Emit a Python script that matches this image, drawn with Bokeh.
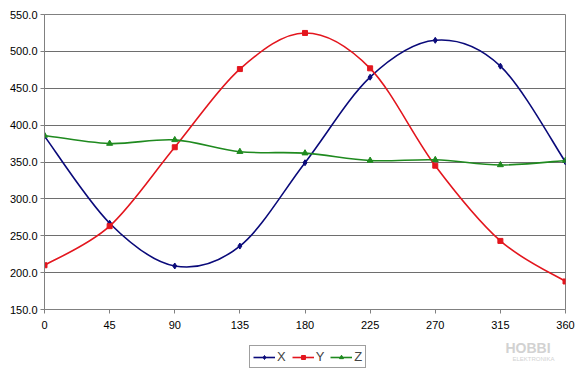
from bokeh.plotting import figure
from bokeh.layouts import column
from bokeh.models import (FixedTicker, PrintfTickFormatter, Range1d, Legend, LegendItem, Label)
from bokeh.embed import file_html
from bokeh.resources import INLINE

# ---- data ----
angles = [0, 45, 90, 135, 180, 225, 270, 315, 360]
x_vals = [385, 267, 209, 236, 349, 465, 515, 480, 350]
y_vals = [210, 263, 370, 476, 525, 477, 345, 243, 188]
z_vals = [386, 375, 380, 364, 362, 352, 353, 346, 352]
series_names = ["X", "Y", "Z"]
y_ticks = [150, 200, 250, 300, 350, 400, 450, 500, 550]

colors = ["#0a0a7a", "#e3161e", "#1f8a1f"]
markers = ["diamond", "square", "triangle"]
marker_sizes = [6, 5, 6]

FONT = "Liberation Sans"

p = figure(width=580, height=334, output_backend="svg", toolbar_location=None,
           x_range=Range1d(0, 360), y_range=Range1d(150, 550),
           min_border_left=44, min_border_right=15, min_border_top=14, min_border_bottom=25)
p.outline_line_color = "#808080"
p.outline_line_width = 1
p.background_fill_color = "white"
p.border_fill_color = "white"

p.xgrid.visible = False
p.ygrid.ticker = FixedTicker(ticks=y_ticks)
p.ygrid.grid_line_color = "#6e6e6e"
p.ygrid.grid_line_width = 1

p.yaxis.ticker = FixedTicker(ticks=y_ticks)
p.yaxis.formatter = PrintfTickFormatter(format="%.1f")
p.xaxis.ticker = FixedTicker(ticks=angles)
for ax in (p.xaxis, p.yaxis):
    ax.axis_line_color = "#808080"
    ax.major_tick_line_color = "#808080"
    ax.major_tick_in = 0
    ax.major_tick_out = 4
    ax.minor_tick_line_color = None
    ax.major_label_text_font = FONT
    ax.major_label_text_font_size = "11px"
    ax.major_label_text_color = "black"
p.yaxis.major_label_standoff = 3
p.xaxis.major_label_standoff = 7


def smooth_segments(xs, ys):
    n = len(xs)
    x0, y0, x1, y1, cx0, cy0, cx1, cy1 = ([] for _ in range(8))
    for i in range(n - 1):
        im = max(i - 1, 0)
        ip2 = min(i + 2, n - 1)
        x0.append(xs[i]); y0.append(ys[i])
        x1.append(xs[i + 1]); y1.append(ys[i + 1])
        cx0.append(xs[i] + (xs[i + 1] - xs[im]) / 6.0)
        cy0.append(ys[i] + (ys[i + 1] - ys[im]) / 6.0)
        cx1.append(xs[i + 1] - (xs[ip2] - xs[i]) / 6.0)
        cy1.append(ys[i + 1] - (ys[ip2] - ys[i]) / 6.0)
    return dict(x0=x0, y0=y0, x1=x1, y1=y1, cx0=cx0, cy0=cy0, cx1=cx1, cy1=cy1)


# strip below the chart that holds the legend and the watermark
p2 = figure(width=580, height=35, output_backend="svg", toolbar_location=None,
            x_range=Range1d(1000, 1001), y_range=Range1d(1000, 1001),
            min_border=0, x_axis_location=None, y_axis_location=None)
p2.outline_line_color = None
p2.grid.visible = False
p2.background_fill_color = "white"
p2.border_fill_color = "white"

items = []
for name, vals, col, mk, ms in zip(series_names, [x_vals, y_vals, z_vals], colors, markers, marker_sizes):
    seg = smooth_segments(angles, vals)
    for fig in (p, p2):
        r1 = fig.bezier(x0=seg["x0"], y0=seg["y0"], x1=seg["x1"], y1=seg["y1"],
                        cx0=seg["cx0"], cy0=seg["cy0"], cx1=seg["cx1"], cy1=seg["cy1"],
                        line_color=col, line_width=1.6)
        r2 = fig.scatter(angles, vals, marker=mk, size=ms, fill_color=col, line_color=col)
    items.append(LegendItem(label=name, renderers=[r1, r2]))

legend = Legend(items=items, orientation="horizontal", location=(205, 1),
                border_line_color="#404040", border_line_width=1,
                label_text_font=FONT, label_text_font_size="13px",
                glyph_width=22, glyph_height=10, label_standoff=2, label_width=8,
                spacing=6, padding=3, margin=0,
                background_fill_alpha=1.0)
p2.add_layout(legend, "center")

# watermark
p2.add_layout(Label(x=461, y=14, x_units="screen", y_units="screen", text="HOBBI",
                    text_font=FONT, text_font_size="14px", text_font_style="bold",
                    text_color="#d2d2d2"))
p2.add_layout(Label(x=468, y=8, x_units="screen", y_units="screen", text="ELEKTRONIKA",
                    text_font=FONT, text_font_size="6px", text_color="#d2d2d2"))

layout = column(p, p2, spacing=0)
open("out.html", "w").write(file_html(layout, INLINE))
